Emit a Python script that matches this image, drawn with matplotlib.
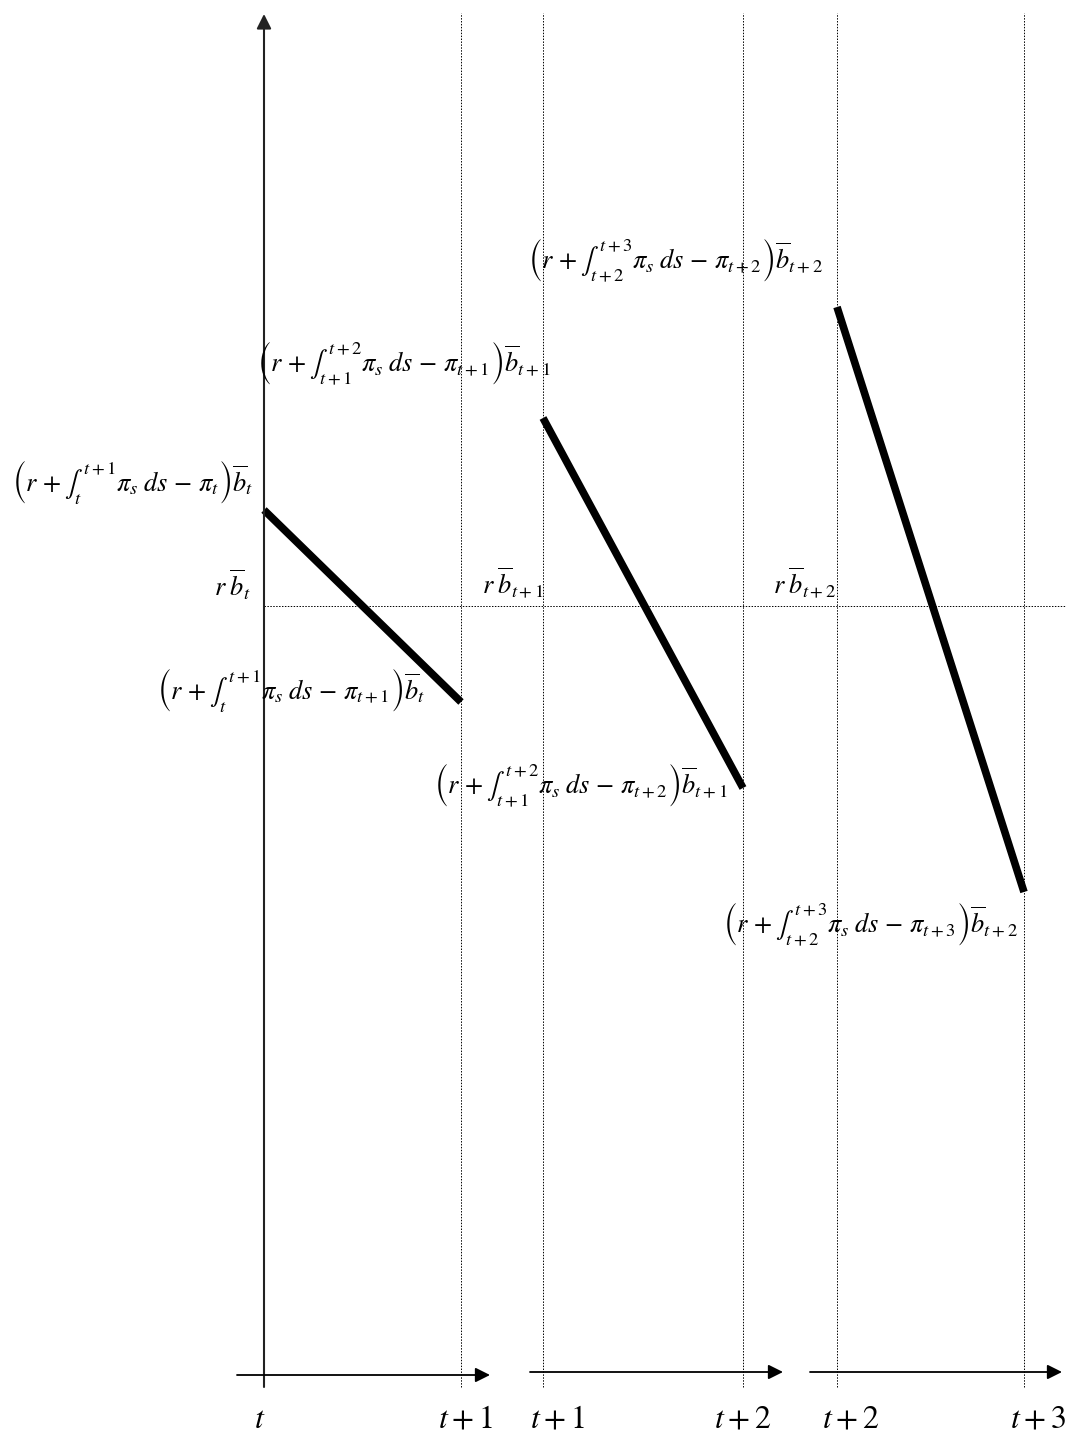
import matplotlib
matplotlib.use("Agg")
import matplotlib.pyplot as plt

plt.rcParams['font.family'] = ['STIXGeneral', 'Liberation Serif', 'DejaVu Serif']
plt.rcParams['mathtext.fontset'] = 'stix'

# layout units: x across the page, y = value (0 on the first time axis)
panel_start = [264, 543, 837]
panel_end = [461, 743, 1024]
axis_level = [0, 3, 3]
arrow_from = [237, 530, 810]
arrow_to = [490, 783, 1062]
line_start = [865, 957, 1068]
line_end = [673, 587, 483]
rb_level = 769

start_labels = [r'$t$', r'$t+1$', r'$t+2$']
end_labels = [r'$t+1$', r'$t+2$', r'$t+3$']
idx = ['t', 't+1', 't+2']
nxt = ['t+1', 't+2', 't+3']
fmt = r'$\left(r\,+\int_{%s}^{%s}\pi_s\;ds\,-\,\pi_{%s}\right)\overline{b}_{%s}$'
hi_labels = [fmt % (a, b, a, a) for a, b in zip(idx, nxt)]
lo_labels = [fmt % (a, b, b, a) for a, b in zip(idx, nxt)]
rb_labels = [r'$r\;\overline{b}_{%s}$' % a for a in idx]

# label placement (centre x, centre y)
hi_pos = [(133, 893), (404, 1012), (675, 1115)]
lo_pos = [(291, 685), (581, 590), (870, 451)]
rb_pos = [(232, 790), (513, 792), (805, 792)]
start_x = [260, 557, 851]
end_x = [465, 743, 1038]

fig = plt.figure(figsize=(10.69, 14.34), dpi=100)
ax = fig.add_axes([0, 0, 1, 1])
ax.set_xlim(0, 1069)
ax.set_ylim(-59, 1375)
ax.axis('off')

# main vertical axis
ax.annotate('', xy=(264, 1361), xytext=(264, -12),
            arrowprops=dict(arrowstyle='-|>', color='#222222', lw=1.5,
                            mutation_scale=22, shrinkA=0, shrinkB=0))

# dotted period boundaries
for x in panel_start[1:] + panel_end:
    ax.plot([x, x], [-12, 1362], color='black', lw=0.7, ls=(0, (1.5, 1.5)))

# r*b reference level
ax.plot([264, 1065], [rb_level, rb_level], color='black', lw=0.7, ls=(0, (1.5, 1.5)))

for i in range(3):
    ax.annotate('', xy=(arrow_to[i], axis_level[i]), xytext=(arrow_from[i], axis_level[i]),
                arrowprops=dict(arrowstyle='-|>', color='black', lw=1.3,
                                mutation_scale=22, shrinkA=0, shrinkB=0))
    ax.plot([panel_start[i], panel_end[i]], [line_start[i], line_end[i]],
            color='black', lw=5.5, solid_capstyle='butt')
    ax.text(start_x[i], -45, start_labels[i], fontsize=23, ha='center', va='center')
    ax.text(end_x[i], -45, end_labels[i], fontsize=23, ha='center', va='center')
    ax.text(hi_pos[i][0], hi_pos[i][1], hi_labels[i], fontsize=19, ha='center', va='center')
    ax.text(lo_pos[i][0], lo_pos[i][1], lo_labels[i], fontsize=19, ha='center', va='center')
    ax.text(rb_pos[i][0], rb_pos[i][1], rb_labels[i], fontsize=19, ha='center', va='center')

fig.savefig('out.png', dpi=100)
